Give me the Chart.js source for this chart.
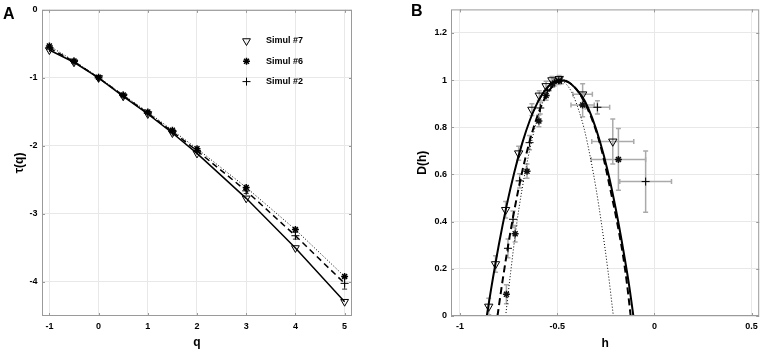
<!doctype html>
<html lang="en">
<head>
  <meta charset="utf-8">
  <title>Multifractal spectra</title>
  <style>
    * { margin: 0; padding: 0; }
    body { background: #fff; font-family: "Liberation Sans", Arial, sans-serif; }
    .wrap { position: relative; width: 765px; height: 353px; }
    canvas { position: absolute; top: 0; }
    .panel { position: absolute; font-size: 16px; line-height: 16px; font-weight: bold; color: #000; }
  </style>
</head>
<body>
<div class="wrap">
  <canvas id="chartA" width="380" height="353" style="left:0"></canvas>
  <canvas id="chartB" width="385" height="353" style="left:380px"></canvas>
  <div class="panel" style="left:3px;top:6px">A</div>
  <div class="panel" style="left:411px;top:3px">B</div>
</div>

<script src="https://cdn.jsdelivr.net/npm/chart.js"></script>
<script>
  // ---- panel A: tau(q) ----
  const seriesNames = ['Simul #7', 'Simul #6', 'Simul #2'];
  const qValues = [-1, -0.5, 0, 0.5, 1, 1.5, 2, 3, 4, 5];
  const tauSimul7 = [-0.59, -0.77, -1.0, -1.27, -1.53, -1.81, -2.11, -2.77, -3.50, -4.29];
  const tauSimul6 = [-0.53, -0.75, -0.99, -1.25, -1.50, -1.77, -2.04, -2.61, -3.23, -3.92];
  const tauSimul2 = [-0.56, -0.76, -1.0, -1.26, -1.52, -1.79, -2.07, -2.66, -3.32, -4.02];
  const tauErr2 = [0.02, 0.02, 0.02, 0.02, 0.02, 0.03, 0.03, 0.04, 0.05, 0.085];
  const qTicks = [-1, 0, 1, 2, 3, 4, 5];
  const tauTicks = [-4, -3, -2, -1, 0];

  // ---- panel B: D(h) ----
  const hSimul7 = [-0.852, -0.817, -0.765, -0.698, -0.630, -0.592, -0.557, -0.527, -0.490, -0.369, -0.214];
  const dSimul7 = [0.04, 0.22, 0.45, 0.69, 0.875, 0.935, 0.975, 1.0, 1.005, 0.94, 0.74];
  const hErr7 = [0, 0, 0, 0, 0, 0, 0, 0, 0, 0.05, 0.108];
  const dErr7 = [0.035, 0.035, 0.035, 0.03, 0.025, 0.02, 0.02, 0.015, 0.015, 0.045, 0.095];

  const hSimul6 = [-0.761, -0.716, -0.655, -0.594, -0.557, -0.523, -0.492, -0.369, -0.185];
  const dSimul6 = [0.092, 0.349, 0.614, 0.827, 0.935, 0.985, 0.997, 0.895, 0.664];
  const hErr6 = [0, 0, 0, 0, 0, 0, 0, 0.06, 0.14];
  const dErr6 = [0.04, 0.035, 0.03, 0.025, 0.02, 0.015, 0.015, 0.05, 0.131];

  const hSimul2 = [-0.753, -0.727, -0.693, -0.642, -0.587, -0.550, -0.515, -0.478, -0.293, -0.045];
  const dSimul2 = [0.287, 0.41, 0.573, 0.735, 0.882, 0.955, 0.99, 1.0, 0.885, 0.57];
  const hErr2 = [0, 0, 0, 0, 0, 0, 0, 0, 0.063, 0.133];
  const dErr2 = [0.04, 0.035, 0.03, 0.03, 0.025, 0.02, 0.015, 0.015, 0.028, 0.13];

  // fitted spectra
  const solidH = [-0.862, -0.84, -0.80, -0.76, -0.72, -0.68, -0.64, -0.60, -0.56, -0.52, -0.485, -0.44, -0.40, -0.36, -0.32, -0.28, -0.24, -0.20, -0.16, -0.13, -0.108];
  const solidD = [0, 0.113, 0.302, 0.468, 0.611, 0.732, 0.831, 0.907, 0.960, 0.991, 1.0, 0.99, 0.96, 0.915, 0.84, 0.74, 0.615, 0.46, 0.28, 0.13, 0];
  const dashedH = [-0.807, -0.78, -0.74, -0.70, -0.66, -0.62, -0.58, -0.54, -0.50, -0.47, -0.43, -0.39, -0.35, -0.31, -0.27, -0.23, -0.19, -0.16, -0.14, -0.122];
  const dashedD = [0, 0.154, 0.358, 0.534, 0.682, 0.802, 0.894, 0.957, 0.992, 1.0, 0.985, 0.95, 0.89, 0.81, 0.70, 0.55, 0.39, 0.25, 0.13, 0];
  const dottedH = [-0.765, -0.74, -0.71, -0.68, -0.65, -0.62, -0.59, -0.56, -0.53, -0.49, -0.45, -0.42, -0.39, -0.36, -0.33, -0.30, -0.27, -0.24, -0.211];
  const dottedD = [0, 0.18, 0.38, 0.54, 0.67, 0.78, 0.87, 0.935, 0.98, 1.0, 0.98, 0.94, 0.875, 0.79, 0.675, 0.54, 0.38, 0.2, 0];
  const hTicks = [-1, -0.5, 0, 0.5];
  const dTicks = [0, 0.2, 0.4, 0.6, 0.8, 1, 1.2];

  Chart.defaults.font.family = '"Liberation Sans", Arial, sans-serif';
  Chart.defaults.color = '#000';

  const pts = (xs, ys) => xs.map((x, i) => ({x: x, y: ys[i]}));

  // error bars drawn with the chart's own scales
  const errorBars = {
    id: 'errorBars',
    beforeDatasetsDraw(chart) {
      const {ctx, scales: {x, y}} = chart;
      ctx.save();
      chart.data.datasets.forEach(ds => {
        if (!ds.errX && !ds.errY) return;
        ctx.strokeStyle = ds.errColor;
        ctx.lineWidth = ds.errWidth;
        const cap = 2.5;
        ds.data.forEach((p, j) => {
          const px = x.getPixelForValue(p.x);
          const py = y.getPixelForValue(p.y);
          const ey = ds.errY ? ds.errY[j] : 0;
          const ex = ds.errX ? ds.errX[j] : 0;
          ctx.beginPath();
          if (ey) {
            const y1 = y.getPixelForValue(p.y - ey), y2 = y.getPixelForValue(p.y + ey);
            ctx.moveTo(px, y1); ctx.lineTo(px, y2);
            ctx.moveTo(px - cap, y1); ctx.lineTo(px + cap, y1);
            ctx.moveTo(px - cap, y2); ctx.lineTo(px + cap, y2);
          }
          if (ex) {
            const x1 = x.getPixelForValue(p.x - ex), x2 = x.getPixelForValue(p.x + ex);
            ctx.moveTo(x1, py); ctx.lineTo(x2, py);
            ctx.moveTo(x1, py - cap); ctx.lineTo(x1, py + cap);
            ctx.moveTo(x2, py - cap); ctx.lineTo(x2, py + cap);
          }
          ctx.stroke();
        });
      });
      ctx.restore();
    }
  };

  // box around the axes, matlab style
  const frame = {
    id: 'frame',
    afterDraw(chart) {
      const {ctx, chartArea: a, scales: {x, y}} = chart;
      ctx.save();
      ctx.strokeStyle = '#9a9a9a';
      ctx.lineWidth = 1;
      ctx.strokeRect(a.left + 0.5, a.top + 0.5, a.width - 1, a.height - 1);
      ctx.beginPath();
      x.ticks.forEach(t => {
        const px = Math.round(x.getPixelForValue(t.value)) + 0.5;
        ctx.moveTo(px, a.bottom); ctx.lineTo(px, a.bottom - 3);
        ctx.moveTo(px, a.top); ctx.lineTo(px, a.top + 3);
      });
      y.ticks.forEach(t => {
        const py = Math.round(y.getPixelForValue(t.value)) + 0.5;
        ctx.moveTo(a.left, py); ctx.lineTo(a.left + 3, py);
        ctx.moveTo(a.right, py); ctx.lineTo(a.right - 3, py);
      });
      ctx.stroke();
      ctx.restore();
    }
  };

  // legend inside panel A
  const legendA = {
    id: 'legendA',
    afterDraw(chart) {
      const ctx = chart.ctx;
      ctx.save();
      chart.data.datasets.forEach((ds, i) => {
        const mx = 246.5, my = 41 + i * 20.3;
        ctx.strokeStyle = '#000';
        ctx.fillStyle = 'rgba(255,255,255,0)';
        ctx.lineWidth = ds.pointBorderWidth;
        Chart.helpers.drawPoint(ctx, {
          pointStyle: ds.pointStyle, radius: ds.pointRadius,
          rotation: ds.pointRotation || 0, borderWidth: ds.pointBorderWidth
        }, mx, my);
        ctx.fillStyle = '#000';
        ctx.font = 'bold 9px "Liberation Sans", Arial, sans-serif';
        ctx.textBaseline = 'middle';
        ctx.textAlign = 'left';
        ctx.fillText(ds.label, 266, my);
      });
      ctx.restore();
    }
  };

  const tickFont = {size: 9, weight: 'bold'};
  const gridStyle = {color: '#e8e8e8', drawTicks: false};

  new Chart(document.getElementById('chartA'), {
    type: 'scatter',
    data: {
      datasets: [
        {
          label: seriesNames[0], data: pts(qValues, tauSimul7), showLine: true,
          borderColor: '#000', borderWidth: 1.5,
          pointStyle: 'triangle', pointRotation: 180, pointRadius: 4.5, pointBorderWidth: 1,
          pointBorderColor: '#000', pointBackgroundColor: 'rgba(255,255,255,0)'
        },
        {
          label: seriesNames[1], data: pts(qValues, tauSimul6), showLine: true,
          borderColor: '#000', borderWidth: 1, borderDash: [1, 2],
          pointStyle: 'star', pointRadius: 3.5, pointBorderWidth: 1.5,
          pointBorderColor: '#000', pointBackgroundColor: '#000'
        },
        {
          label: seriesNames[2], data: pts(qValues, tauSimul2), showLine: true,
          borderColor: '#000', borderWidth: 1.5, borderDash: [6, 4],
          pointStyle: 'cross', pointRadius: 4, pointBorderWidth: 1,
          pointBorderColor: '#000',
          errY: tauErr2, errColor: '#333', errWidth: 1
        }
      ]
    },
    options: {
      responsive: false,
      animation: false,
      layout: {padding: {top: 6, right: 28, left: 0, bottom: 0}},
      plugins: {legend: {display: false}, tooltip: {enabled: false}},
      scales: {
        x: {
          type: 'linear', min: -1.15, max: 5.15,
          afterBuildTicks: s => { s.ticks = qTicks.map(v => ({value: v})); },
          afterFit: s => { s.height = 37; },
          grid: gridStyle, border: {display: false},
          ticks: {padding: 5, font: tickFont, callback: v => String(v)},
          title: {display: true, text: 'q', font: {size: 12, weight: 'bold'}, padding: {top: 0, bottom: 3}}
        },
        y: {
          type: 'linear', min: -4.5, max: 0,
          afterBuildTicks: s => { s.ticks = tauTicks.map(v => ({value: v})); },
          afterFit: s => { s.width = 42; },
          grid: gridStyle, border: {display: false},
          ticks: {padding: 4.5, font: tickFont, callback: v => String(v)},
          title: {display: true, text: 'τ(q)', font: {size: 12, weight: 'bold'}, padding: {top: 12.8, bottom: 0}}
        }
      }
    },
    plugins: [errorBars, frame, legendA]
  });

  const curve = (xs, ys, width, dash) => ({
    data: pts(xs, ys), showLine: true, pointRadius: 0,
    borderColor: '#000', borderWidth: width, borderDash: dash,
    cubicInterpolationMode: 'monotone'
  });

  new Chart(document.getElementById('chartB'), {
    type: 'scatter',
    data: {
      datasets: [
        curve(dottedH, dottedD, 1, [1, 2]),
        curve(dashedH, dashedD, 2, [7, 4]),
        curve(solidH, solidD, 2, []),
        {
          label: seriesNames[0], data: pts(hSimul7, dSimul7), showLine: false,
          pointStyle: 'triangle', pointRotation: 180, pointRadius: 4.8, pointBorderWidth: 1,
          pointBorderColor: '#000', pointBackgroundColor: 'rgba(255,255,255,0)',
          errX: hErr7, errY: dErr7, errColor: '#aaaaaa', errWidth: 1.5
        },
        {
          label: seriesNames[1], data: pts(hSimul6, dSimul6), showLine: false,
          pointStyle: 'star', pointRadius: 3.5, pointBorderWidth: 1.5,
          pointBorderColor: '#111', pointBackgroundColor: '#111',
          errX: hErr6, errY: dErr6, errColor: '#aaaaaa', errWidth: 1.5
        },
        {
          label: seriesNames[2], data: pts(hSimul2, dSimul2), showLine: false,
          pointStyle: 'cross', pointRadius: 4, pointBorderWidth: 1,
          pointBorderColor: '#000',
          errX: hErr2, errY: dErr2, errColor: '#aaaaaa', errWidth: 1.5
        }
      ]
    },
    options: {
      responsive: false,
      animation: false,
      layout: {padding: {top: 6, right: 5, left: 0, bottom: 0}},
      plugins: {legend: {display: false}, tooltip: {enabled: false}},
      scales: {
        x: {
          type: 'linear', min: -1.046, max: 0.539,
          afterBuildTicks: s => { s.ticks = hTicks.map(v => ({value: v})); },
          afterFit: s => { s.height = 37; },
          grid: gridStyle, border: {display: false},
          ticks: {padding: 5, font: tickFont, callback: v => String(v)},
          title: {display: true, text: 'h', font: {size: 12, weight: 'bold'}, padding: {top: 0, bottom: 2}}
        },
        y: {
          type: 'linear', min: 0, max: 1.3,
          afterBuildTicks: s => { s.ticks = dTicks.map(v => ({value: v})); },
          afterFit: s => { s.width = 71; },
          grid: gridStyle, border: {display: false},
          ticks: {padding: 4, font: tickFont, callback: v => String(v)},
          title: {display: true, text: 'D(h)', font: {size: 12, weight: 'bold'}, padding: {top: 35.8, bottom: 0}}
        }
      }
    },
    plugins: [errorBars, frame]
  });
</script>
</body>
</html>
